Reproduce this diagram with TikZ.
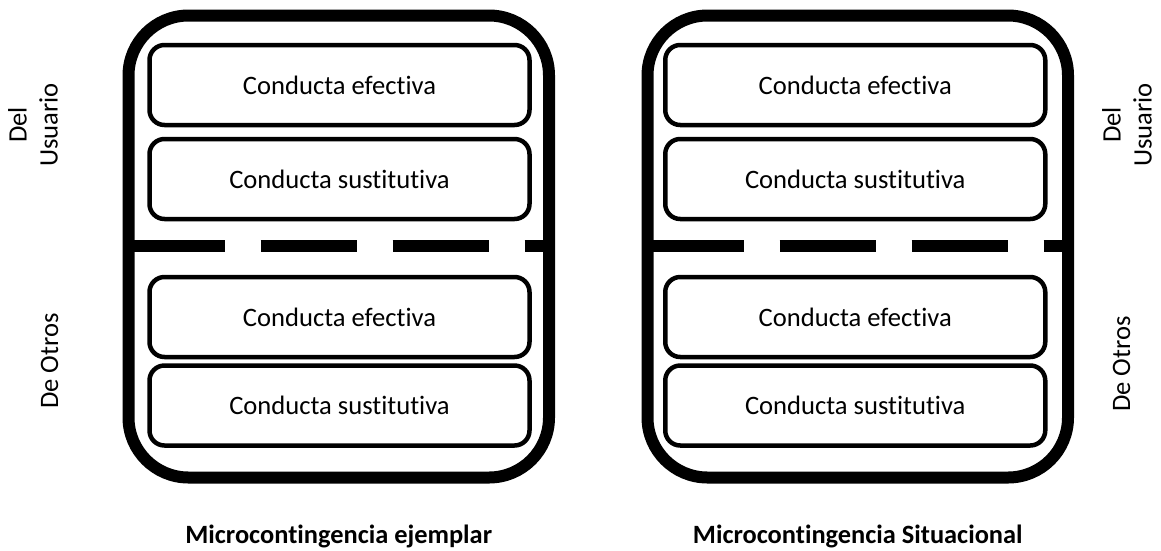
\documentclass[tikz,border=0pt]{standalone}
\usepackage{fontspec}
\setmainfont{Carlito}[Ligatures={NoCommon}]
\usetikzlibrary{positioning}

\tikzset{
  marco/.style={draw, line width=12pt, rounded corners=60pt, inner sep=0pt, outer sep=0pt,
    minimum width=420.5pt, minimum height=462pt},
  conducta/.style={draw, line width=4.5pt, rounded corners=15pt, inner sep=0pt,
    minimum width=380pt, minimum height=80pt, font=\fontsize{26.6}{32}\selectfont},
  separa/.style={line width=12pt, dash pattern=on 96pt off 36pt},
  lado/.style={rotate=90, align=center, inner sep=0pt, font=\fontsize{26.6}{31}\selectfont},
  titulo/.style={anchor=base, inner sep=0pt, font=\fontsize{26.4}{32}\selectfont\bfseries}
}

\begin{document}
\begin{tikzpicture}[x=1pt, y=-1pt]
  \useasboundingbox (0,0) rectangle (1161,550);

  % microcontingencia ejemplar
  \node[marco] (mEj) at (338.75,246.5) {};
    \node[conducta] (efEjU) at (339.5,85) {Conducta efectiva};
    \node[conducta] (suEjU) at (339.5,179) {Conducta sustitutiva};
    \node[conducta] (efEjO) at (339.5,317) {Conducta efectiva};
    \node[conducta] (suEjO) at (339.5,405.5) {Conducta sustitutiva};
    \coordinate (sepEj) at (338.75,246);
    \draw[separa] (mEj.west |- sepEj) -- (mEj.east |- sepEj);
  \node[titulo] (tEj) at (338.75,543) {Microcontingencia ejemplar};

  % microcontingencia situacional
  \node[marco] (mSi) at (857.75,246.5) {};
    \node[conducta] (efSiU) at (855.25,85) {Conducta efectiva};
    \node[conducta] (suSiU) at (855.25,179) {Conducta sustitutiva};
    \node[conducta] (efSiO) at (855.25,317) {Conducta efectiva};
    \node[conducta] (suSiO) at (855.25,405.5) {Conducta sustitutiva};
    \coordinate (sepSi) at (857.75,246);
    \draw[separa] (mSi.west |- sepSi) -- (mSi.east |- sepSi);
  \node[titulo] (tSi) at (857.75,543) {Microcontingencia Situacional};

  % etiquetas laterales
  \node[lado] (usuEj) at (33,125) {Del\\Usuario};
  \node[lado, anchor=base] (otrEj) at (58,361) {De Otros};
  \node[lado] (usuSi) at (1127,125) {Del\\Usuario};
  \node[lado, anchor=base] (otrSi) at (1130,364) {De Otros};
\end{tikzpicture}
\end{document}
